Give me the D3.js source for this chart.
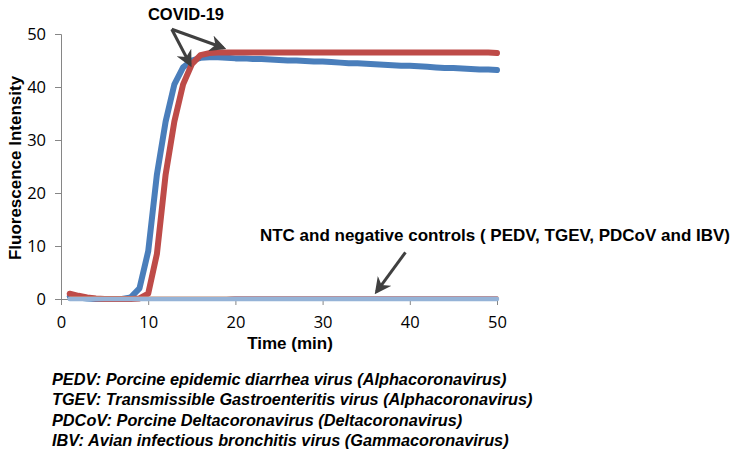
<!DOCTYPE html>
<html><head><meta charset="utf-8">
<script src="https://cdn.jsdelivr.net/npm/d3@7"></script>
<style>body{margin:0;background:#fff}</style>
</head><body>
<script>
const time = d3.range(1, 51);
const covidBlue = [0.5,0.3,0.1,0,0,0,0,0.3,2,9,23.5,33.5,40.5,43.7,45,45.5,45.6,45.6,45.5,45.4,45.4,45.3,45.3,45.2,45.1,45.0,45.0,44.9,44.8,44.8,44.7,44.6,44.5,44.5,44.4,44.3,44.2,44.1,44.0,44.0,43.9,43.8,43.7,43.6,43.6,43.5,43.4,43.3,43.3,43.2];
const covidRed = [1.0,0.6,0.3,0.1,0,0,0,0,0.1,1,8.5,23.5,33.5,40.5,44.3,46,46.4,46.5,46.5,46.5,46.5,46.5,46.5,46.5,46.5,46.5,46.5,46.5,46.5,46.5,46.5,46.5,46.5,46.5,46.5,46.5,46.5,46.5,46.5,46.5,46.5,46.5,46.5,46.5,46.5,46.5,46.5,46.5,46.5,46.4];
const ctrlOrange = [0.2,0.2,0.2,0.2,0.2,0.2,0.2,0.2,0.2,0.2,0.2,0.2,0.2,0.2,0.2,0.2,0.2,0.2,0.2,0.3,0.3,0.3,0.3,0.3,0.3,0.3,0.3,0.3,0.3,0.3,0.3,0.3,0.3,0.3,0.3,0.3,0.3,0.3,0.3,0.3,0.3,0.3,0.3,0.3,0.3,0.3,0.3,0.3,0.3,0.3];
const ctrlPurple = [0.1,0.1,0.1,0.1,0.1,0.1,0.1,0.1,0.1,0.1,0.1,0.1,0.1,0.1,0.1,0.1,0.1,0.1,0.1,0.2,0.2,0.2,0.2,0.2,0.2,0.2,0.2,0.2,0.2,0.2,0.2,0.2,0.2,0.2,0.2,0.2,0.2,0.2,0.2,0.2,0.2,0.2,0.2,0.2,0.2,0.2,0.2,0.2,0.2,0.2];
const ctrlNTC = [0,0,0,0,0,0,0,0,0,0,0,0,0,0,0,0,0,0,0,0,0,0,0,0,0,0,0,0,0,0,0,0,0,0,0,0,0,0,0,0,0,0,0,0,0,0,0,0,0,0];
const xTicks = [0,10,20,30,40,50];
const yTicks = [0,10,20,30,40,50];
const footnotes = [
 "PEDV: Porcine epidemic diarrhea virus (Alphacoronavirus)",
 "TGEV: Transmissible Gastroenteritis virus (Alphacoronavirus)",
 "PDCoV: Porcine Deltacoronavirus (Deltacoronavirus)",
 "IBV: Avian infectious bronchitis virus (Gammacoronavirus)"
];

const W = 735, H = 455;
const svg = d3.select("body").append("svg").attr("width", W).attr("height", H);
const x = d3.scaleLinear().domain([0,50]).range([61,497]);
const y = d3.scaleLinear().domain([0,50]).range([299,34]);
const axisColor = "#868686";
const tickFont = "'Open Sans', 'DejaVu Sans', sans-serif";

// y axis
const yAxis = svg.append("g").attr("transform","translate(61,0)")
  .call(d3.axisLeft(y).tickValues(yTicks).tickSize(6).tickPadding(9).tickFormat(d3.format("d")));
yAxis.select(".domain").attr("stroke", axisColor);
yAxis.selectAll(".tick line").attr("stroke", axisColor);
yAxis.selectAll("text").attr("font-family", tickFont).attr("font-size", 16.5).attr("fill","#000");

// x axis
const xAxis = svg.append("g").attr("transform","translate(0,299)")
  .call(d3.axisBottom(x).tickValues(xTicks).tickSize(6).tickPadding(11).tickFormat(d3.format("d")));
xAxis.select(".domain").attr("stroke", axisColor);
xAxis.selectAll(".tick line").attr("stroke", axisColor);
xAxis.selectAll("text").attr("font-family", tickFont).attr("font-size", 16.5).attr("fill","#000");

const line = d3.line().x((d,i)=>x(time[i])).y(d=>y(d));
function draw(data, color, w) {
  svg.append("path").datum(data).attr("d", line).attr("fill","none")
    .attr("stroke", color).attr("stroke-width", w)
    .attr("stroke-linecap","round").attr("stroke-linejoin","round");
}
draw(covidBlue, "#4A7EBB", 6);
draw(covidRed, "#BE4B48", 6);
draw(ctrlOrange, "#E08A5A", 3);
draw(ctrlPurple, "#9B8AC4", 3);
draw(ctrlNTC, "#95B3D7", 4.5);

// axis titles
const boldFont = "'Liberation Sans', Arial, sans-serif";
svg.append("text").attr("x", 290).attr("y", 349).attr("text-anchor","middle")
  .attr("font-family", boldFont).attr("font-weight","bold").attr("font-size", 17).text("Time (min)");
svg.append("text").attr("transform","translate(21,168) rotate(-90)").attr("text-anchor","middle")
  .attr("font-family", boldFont).attr("font-weight","bold").attr("font-size", 17).text("Fluorescence Intensity");

// annotations
svg.append("defs").append("marker").attr("id","ah").attr("viewBox","0 0 10 10")
  .attr("refX",8).attr("refY",5).attr("markerWidth",5.5).attr("markerHeight",5.5).attr("orient","auto")
  .append("path").attr("d","M0,0 L10,5 L0,10 L3,5 Z").attr("fill","#404040");
function arrow(x1,y1,x2,y2){
  svg.append("line").attr("x1",x1).attr("y1",y1).attr("x2",x2).attr("y2",y2)
    .attr("stroke","#404040").attr("stroke-width",3).attr("marker-end","url(#ah)");
}
arrow(x(12.7), y(50.9), x(14.8), y(44.3));
arrow(x(12.7), y(50.9), x(18.6), y(47.4));
arrow(x(39.5), y(8.8), x(36.2), y(1.4));

svg.append("text").attr("x", 186).attr("y", 20).attr("text-anchor","middle")
  .attr("font-family", boldFont).attr("font-weight","bold").attr("font-size", 16.5).text("COVID-19");
svg.append("text").attr("x", 730).attr("y", 241).attr("text-anchor","end")
  .attr("font-family", boldFont).attr("font-weight","bold").attr("font-size", 17)
  .text("NTC and negative controls ( PEDV, TGEV, PDCoV and IBV)");

svg.append("g").selectAll("text").data(footnotes).join("text")
  .attr("x", 52).attr("y", (d,i)=>385 + i*20.3)
  .attr("font-family", boldFont).attr("font-weight","bold").attr("font-style","italic")
  .attr("font-size", 16.3).text(d=>d);
</script>
</body></html>
